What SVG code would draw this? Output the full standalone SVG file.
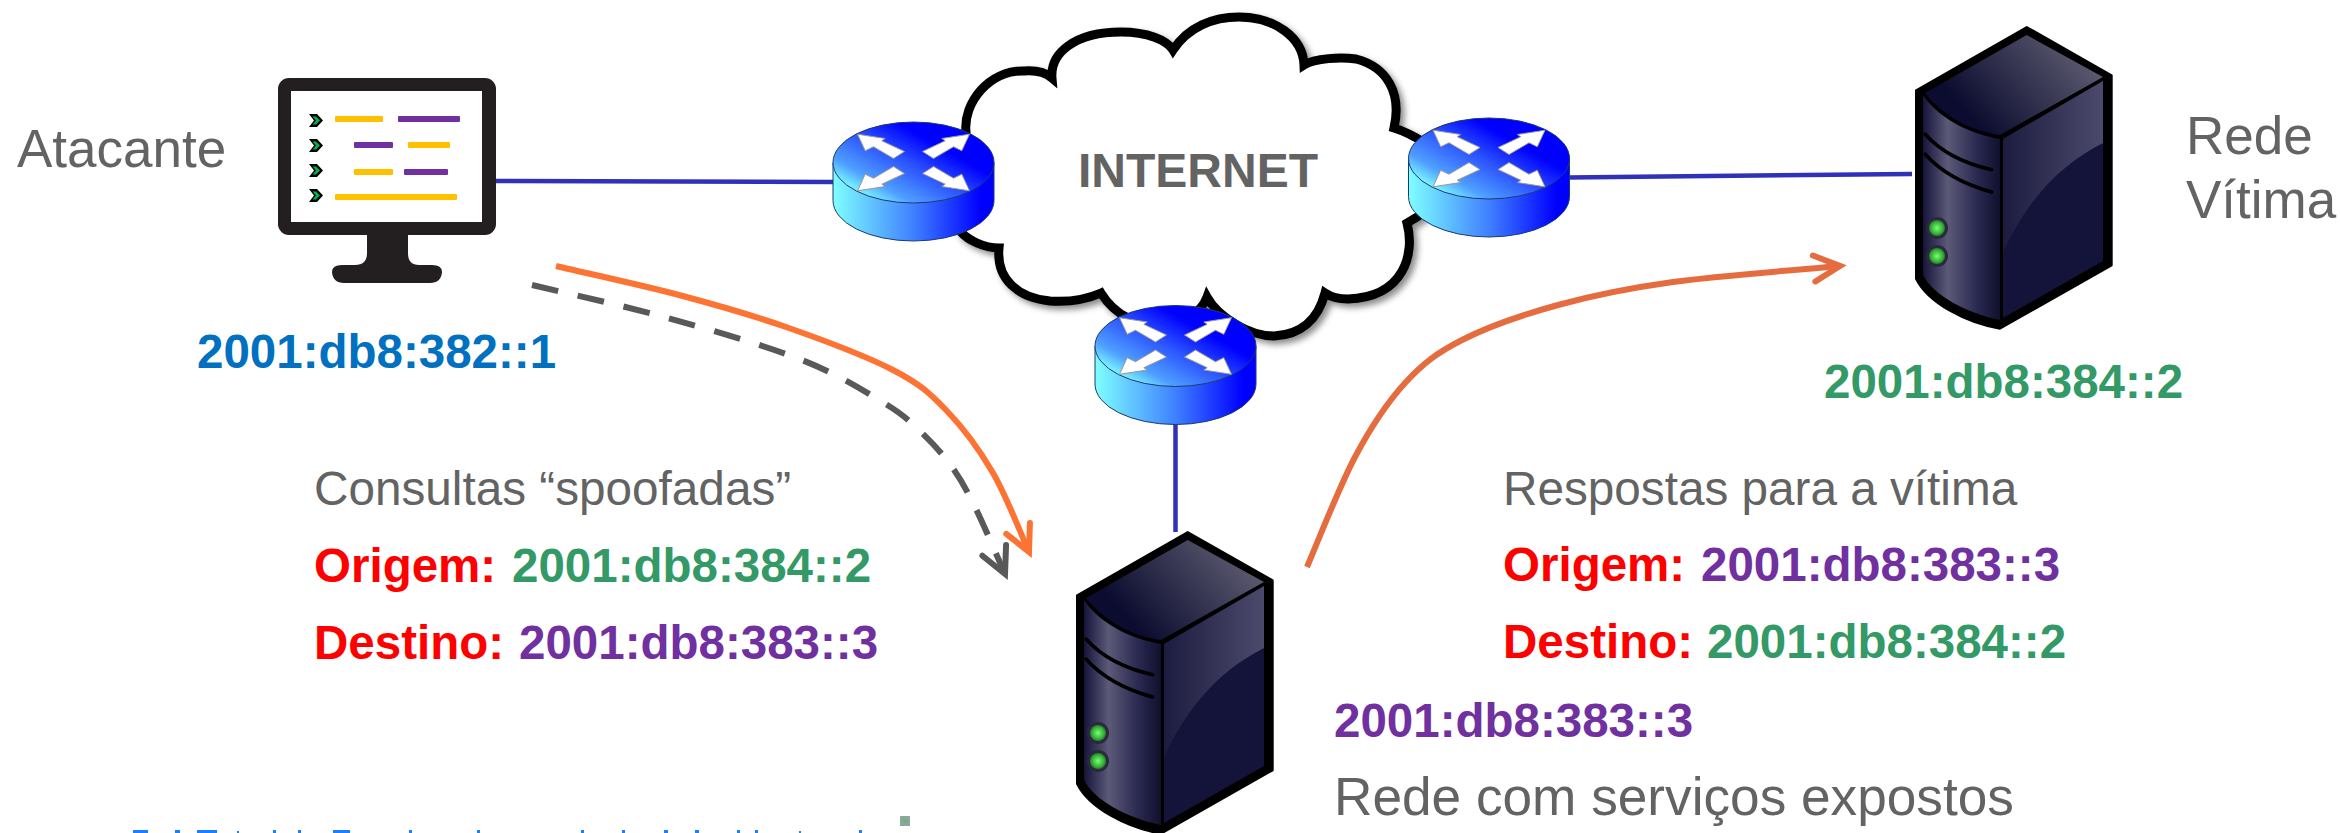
<svg xmlns="http://www.w3.org/2000/svg" width="2340" height="833" viewBox="0 0 2340 833">
<style>
text{font-family:"Liberation Sans",Arial,sans-serif}
.g{fill:#636363;font-size:47.7px}
.big{fill:#636363;font-size:53px}
.b{font-weight:bold;font-size:47.5px}
.red{fill:#f00}.pur{fill:#7030a0}.grn{fill:#339966}.blu{fill:#0070c0}
.link{fill:none;stroke:#3030b8;stroke-width:4.5}
.y{fill:#ffc000}.p{fill:#7030a0}
.arrow{fill:#fff;stroke:#999;stroke-width:1}
.mark{fill:#1a80ff}
</style>
<defs>
<linearGradient id="rTop" x1="0.12" y1="0.85" x2="0.8" y2="0.25"><stop offset="0" stop-color="#7fffff"/><stop offset="0.2" stop-color="#4f9fff"/><stop offset="0.55" stop-color="#2a50ff"/><stop offset="0.85" stop-color="#0000ff"/></linearGradient>
<linearGradient id="rBody" x1="0" y1="0" x2="1" y2="0"><stop offset="0" stop-color="#7fffff"/><stop offset="0.5" stop-color="#3f80ff"/><stop offset="0.92" stop-color="#0000ff"/></linearGradient>
<linearGradient id="sFront" x1="0" y1="0" x2="1" y2="0"><stop offset="0" stop-color="#15143a"/><stop offset="0.32" stop-color="#5c5a78"/><stop offset="0.7" stop-color="#2a2950"/><stop offset="1" stop-color="#10102e"/></linearGradient>
<linearGradient id="sRight" x1="0" y1="0" x2="1" y2="0"><stop offset="0" stop-color="#1c1c40"/><stop offset="1" stop-color="#4c4a6c"/></linearGradient>
<linearGradient id="sTop" x1="0.1" y1="0.7" x2="0.9" y2="0.3"><stop offset="0.1" stop-color="#0c0c30"/><stop offset="1" stop-color="#57566c"/></linearGradient>
<radialGradient id="led"><stop offset="0" stop-color="#77ff77"/><stop offset="0.7" stop-color="#37b537"/><stop offset="1" stop-color="#2a7a3a"/></radialGradient>
<filter id="shadow" x="-5%" y="-5%" width="112%" height="112%"><feDropShadow dx="4" dy="4" stdDeviation="3" flood-color="#000" flood-opacity="0.45"/></filter>
<marker id="headO" markerUnits="userSpaceOnUse" markerWidth="60" markerHeight="60" refX="40" refY="30" orient="auto" overflow="visible"><path d="M14,17 L40,30 L14,43" fill="none" stroke="#fd7333" stroke-width="6" stroke-linecap="round"/></marker>
<marker id="headG" markerUnits="userSpaceOnUse" markerWidth="60" markerHeight="60" refX="40" refY="30" orient="auto" overflow="visible"><path d="M14,17 L40,30 L14,43" fill="none" stroke="#595959" stroke-width="6" stroke-linecap="round"/></marker>
<marker id="headR" markerUnits="userSpaceOnUse" markerWidth="60" markerHeight="60" refX="40" refY="30" orient="auto" overflow="visible"><path d="M14,17 L40,30 L14,43" fill="none" stroke="#e46c3f" stroke-width="6" stroke-linecap="round"/></marker>
<polygon id="ar" class="arrow" points="-56,-28.300 -28.300,-24 -31.700,-21.700 -9,-11 -20,-4 -40,-15.700 -48.300,-11.700"/>
<g id="router">
<path d="M-80.5,0 V38 A80.5,40.5 0 0 0 80.500,38 V0 Z" fill="url(#rBody)" stroke="#1c3a70" stroke-width="1"/>
<ellipse rx="80.5" ry="40.5" fill="url(#rTop)" stroke="#1c3a70" stroke-width="1"/>
<use href="#ar"/><use href="#ar" transform="scale(-1,1)"/><use href="#ar" transform="scale(1,-1)"/><use href="#ar" transform="scale(-1,-1)"/>
</g>
<path id="chev" d="M0,0 H8 L14,6.5 L8,13 H0 L5,6.5 Z" fill="#000"/>
<path id="chevg" d="M3.5,2.5 H7 L11,6.5 L7,10.5 H3.5 L7,6.5 Z" fill="#00b050"/>
<g id="srv">
<path d="M110.7,0 L195.7,48.3 V238.3 L84,301.7 C50,296 12,276 0,251.7 V63.3 Z" fill="#000" stroke="#000" stroke-width="2" stroke-linejoin="round"/>
<path d="M7,68 C25,95 60,108 84,112 V293 C50,286 17,268 7,248 Z" fill="url(#sFront)"/>
<path d="M87,112 L187,54 V234 L87,291 Z" fill="#14143a"/>
<path d="M87,112 L187,54 V116 C150,135 115,165 87,225 Z" fill="url(#sRight)"/>
<path d="M110.7,8 L187,50 L84,108 C55,104 28,90 9,66 Z" fill="url(#sTop)"/>
<path d="M9,107 C25,125 50,137 75.7,142.7 M9,127 C25,145 50,158 75.7,165" fill="none" stroke="#000" stroke-width="3.5" stroke-linecap="round"/>
<circle cx="21" cy="201" r="11" fill="#2a2a3a"/><circle cx="21" cy="201" r="8" fill="url(#led)"/>
<circle cx="21" cy="229" r="11" fill="#2a2a3a"/><circle cx="21" cy="229" r="8" fill="url(#led)"/>
</g>
</defs>
<rect width="2340" height="833" fill="#fff"/>

<g id="connectors">
<path class="link" d="M496,181 L834,182"/>
<path class="link" d="M1568,177.500 L1912,174"/>
<path class="link" d="M1175.500,424 V532"/>
<path d="M556,266 C576.5,271 640.7,284.8 679,295 C717.3,305.2 750.3,314.5 786,327 C821.7,339.5 866.3,356.2 893,370 C919.7,383.8 929.3,392.8 946,410 C962.7,427.2 979.2,449.3 993,473 C1006.8,496.7 1023,539 1029,552" fill="none" stroke="#fd7333" stroke-width="6" marker-end="url(#headO)"/>
<path d="M532,285 C554.7,290.5 623,305.5 668,318 C713,330.5 766,345.8 802,360 C838,374.2 864.2,391 884,403 C903.8,415 909.7,421.3 921,432 C932.3,442.7 943,454.5 952,467 C961,479.5 966.2,489.2 975,507 C983.8,524.8 1000,563 1005,574" fill="none" stroke="#595959" stroke-width="6" stroke-dasharray="27 20" marker-end="url(#headG)"/>
<path d="M1307,567 C1315,548.7 1338.7,487.7 1355,457 C1371.3,426.3 1387.2,402.5 1405,383 C1422.8,363.5 1436.5,353 1462,340 C1487.5,327 1522.8,314.7 1558,305 C1593.2,295.3 1626,288.5 1673,282 C1720,275.5 1812,268.7 1840,266" fill="none" stroke="#e46c3f" stroke-width="6" marker-end="url(#headR)"/>
</g>

<g id="attacker">
<rect x="278" y="78" width="218" height="157" rx="11" fill="#231f20"/>
<rect x="291" y="91" width="191" height="131" fill="#fff"/>
<path d="M367,235 V253 Q367,265 355,265 H342 Q332,265 332,272 Q333,283 344,283 H430 Q441,283 442,272 Q442,265 432,265 H419 Q408,265 408,253 V235 Z" fill="#231f20"/>
<rect class="y" x="335" y="116" width="48" height="6" rx="1"/><rect class="p" x="398" y="116" width="62" height="6" rx="1"/>
<rect class="p" x="354" y="142" width="39" height="6" rx="1"/><rect class="y" x="408" y="142" width="42" height="6" rx="1"/>
<rect class="y" x="354" y="169" width="39" height="6" rx="1"/><rect class="p" x="404" y="169" width="44" height="6" rx="1"/>
<rect class="y" x="335" y="194" width="122" height="6" rx="1"/>
<use href="#chev" x="309" y="114"/><use href="#chevg" x="309" y="114"/>
<use href="#chev" x="309" y="139"/><use href="#chevg" x="309" y="139"/>
<use href="#chev" x="309" y="164"/><use href="#chevg" x="309" y="164"/>
<use href="#chev" x="309" y="189"/><use href="#chevg" x="309" y="189"/>
</g>

<g id="internet">
<path filter="url(#shadow)" fill="#fff" stroke="#000" stroke-width="9" stroke-miterlimit="12" d="M1173,50 C1188,27 1213,17 1239,17 C1274,17 1303,37 1304,65 C1315,58 1341,57 1356,59 C1387,67 1402,93 1394,128 C1407,132 1417,138 1425,143 L1440,200 L1417,217 L1407,223 C1415,253 1405,297 1348,299 C1341,299 1331,297 1325,293 C1318,320 1300,335 1274,336 C1249,336 1218,317 1207,297 C1195,330 1130,340 1101,293 C1085,300 1065,302 1050,301 C1019,298 996,280 999,248 C984,248 968,240 961,232 L940,190 L966,132 C963,103 989,70 1024,71 C1037,70 1045,72 1052,78 C1050,53 1075,32 1121,32 C1147,32 1167,40 1173,50 Z"/>
<text x="1078" y="187" font-weight="bold" font-size="48" fill="#636363">INTERNET</text>
</g>

<g id="router-left"><use href="#router" x="913.500" y="162.500"/></g>
<g id="router-right"><use href="#router" x="1489" y="158.500"/></g>
<g id="router-bottom"><use href="#router" x="1175.500" y="346"/></g>

<g id="server-victim"><use href="#srv" x="1916" y="27"/></g>
<g id="server-exposed"><use href="#srv" x="1077" y="532"/></g>

<g id="labels">
<text x="17" y="167" class="big">Atacante</text>
<text x="2186" y="154" class="big">Rede</text>
<text x="2186" y="218" class="big">Vítima</text>
<text x="197" y="368" class="b blu">2001:db8:382::1</text>
<text x="1824" y="398" class="b grn">2001:db8:384::2</text>
<text x="314" y="505" class="g">Consultas “spoofadas”</text>
<text x="314" y="582" class="b red">Origem:</text>
<text x="512" y="582" class="b grn">2001:db8:384::2</text>
<text x="314" y="659" class="b red">Destino:</text>
<text x="519" y="659" class="b pur">2001:db8:383::3</text>
<text x="1503" y="505" class="g">Respostas para a vítima</text>
<text x="1503" y="581" class="b red">Origem:</text>
<text x="1701" y="581" class="b pur">2001:db8:383::3</text>
<text x="1503" y="658" class="b red">Destino:</text>
<text x="1707" y="658" class="b grn">2001:db8:384::2</text>
<text x="1334" y="737" class="b pur">2001:db8:383::3</text>
<text x="1334" y="815" class="big" style="font-size:53.2px">Rede com serviços expostos</text>
</g>

<g id="footer-remnant">
<path class="mark" d="M133,830h15v3h-15z M175,830h5v3h-5z M197,830h20v3h-20z M237,831h2v2h-2z M273,830h3v3h-3z M298,830h3v3h-3z M333,830h17v3h-17z M409,830h3v3h-3z M477,830h3v3h-3z M581,830h3v3h-3z M622,830h3v3h-3z M664,830h4v3h-4z M695,830h4v3h-4z M737,830h3v3h-3z M755,830h3v3h-3z M799,831h2v2h-2z M859,830h3v3h-3z"/>
<rect x="900" y="816" width="10" height="10" fill="#8fa5a0"/><rect x="903" y="819" width="4" height="4" fill="#6db56d"/>
</g>
</svg>
